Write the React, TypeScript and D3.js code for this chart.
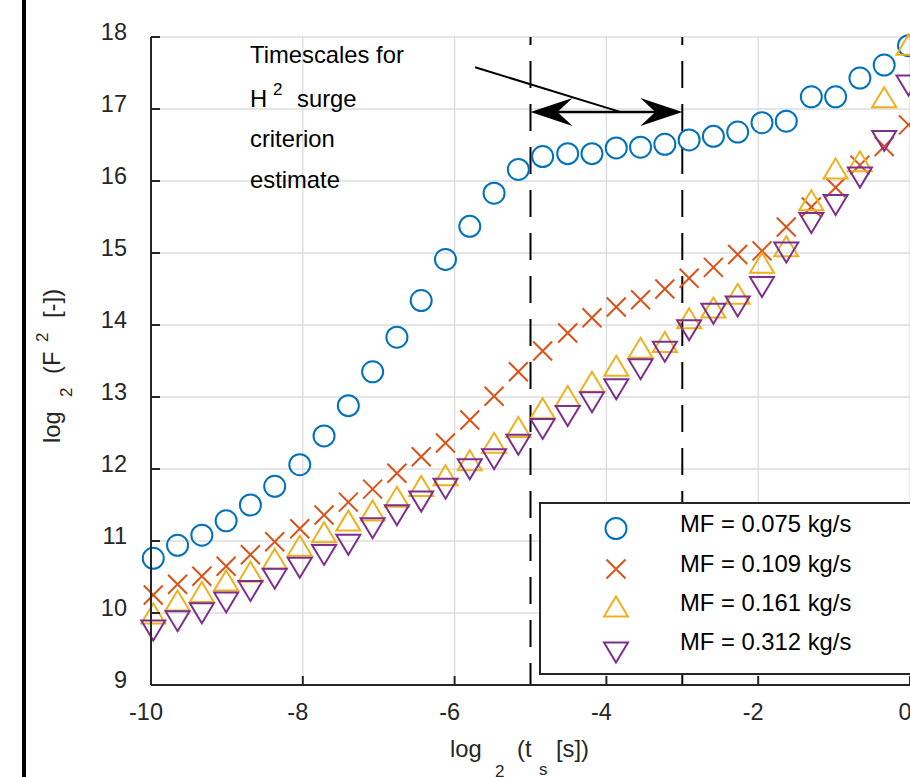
import React from 'react';
import * as d3 from 'd3';

// log2(ts) sample positions
const xValues = [
  -9.97, -9.65, -9.33, -9.01, -8.69, -8.37, -8.04, -7.72, -7.40, -7.08,
  -6.76, -6.44, -6.12, -5.80, -5.48, -5.16, -4.84, -4.51, -4.19, -3.87,
  -3.55, -3.23, -2.91, -2.59, -2.27, -1.95, -1.63, -1.30, -0.98, -0.66,
  -0.34, -0.02,
];

const mf075 = [
  10.76, 10.94, 11.08, 11.28, 11.5, 11.76, 12.06, 12.46, 12.88, 13.35,
  13.83, 14.34, 14.91, 15.37, 15.83, 16.16, 16.34, 16.38, 16.38, 16.46,
  16.47, 16.51, 16.57, 16.62, 16.68, 16.81, 16.83, 17.17, 17.17, 17.43,
  17.61, 17.88,
];

const mf109 = [
  10.25, 10.4, 10.51, 10.65, 10.81, 10.99, 11.17, 11.36, 11.54, 11.72,
  11.94, 12.17, 12.36, 12.68, 13.01, 13.35, 13.64, 13.89, 14.1, 14.25,
  14.35, 14.5, 14.65, 14.8, 14.98, 15.03, 15.36, 15.64, 15.91, 16.22,
  16.48, 16.78,
];

const mf161 = [
  10.0, 10.18, 10.3, 10.46, 10.58, 10.76, 10.94, 11.13, 11.29, 11.43,
  11.62, 11.77, 11.92, 12.13, 12.37, 12.59, 12.85, 13.02, 13.22, 13.44,
  13.69, 13.77, 14.1, 14.25, 14.44, 14.87, 15.1, 15.74, 16.18, 16.28,
  17.17, 17.9,
];

const mf312 = [
  9.75, 9.88, 9.99, 10.14, 10.3, 10.47, 10.62, 10.8, 10.94, 11.17,
  11.35, 11.54, 11.72, 11.99, 12.13, 12.33, 12.55, 12.73, 12.92, 13.1,
  13.38, 13.62, 13.92, 14.15, 14.25, 14.52, 15.0, 15.41, 15.66, 16.04,
  16.55, 17.32,
];

const seriesValues = [mf075, mf109, mf161, mf312];
const legendLabels = ['MF = 0.075 kg/s', 'MF = 0.109 kg/s', 'MF = 0.161 kg/s', 'MF = 0.312 kg/s'];
const markerTypes = ['circle', 'x', 'triangle-up', 'triangle-down'];
const colors = ['#0072BD', '#D95319', '#EDB120', '#7E2F8E'];

const xTicks = [-10, -8, -6, -4, -2, 0];
const yTicks = [9, 10, 11, 12, 13, 14, 15, 16, 17, 18];
const timescaleBounds = [-5, -3];
const arrowLevel = 16.96;
const pointerStart = [-5.73, 17.58];
const pointerEnd = [-3.82, 16.96];

const FONT = '"Liberation Sans", Arial, Helvetica, sans-serif';
const TXT = '#262626';
const FS = 23.8;
const TICK_FS = 23.5;

function Marker({ type, x, y, color }: { type: string; x: number; y: number; color: string }) {
  const common = { fill: 'none', stroke: color, strokeWidth: 2 };
  if (type === 'circle') return <circle cx={x} cy={y} r={10.5} {...common} />;
  if (type === 'x')
    return (
      <path
        d={`M${x - 9.5},${y - 9.5}L${x + 9.5},${y + 9.5}M${x - 9.5},${y + 9.5}L${x + 9.5},${y - 9.5}`}
        {...common}
      />
    );
  if (type === 'triangle-up')
    return <path d={`M${x},${y - 9.5}L${x + 12},${y + 10.5}L${x - 12},${y + 10.5}Z`} {...common} />;
  return <path d={`M${x},${y + 9.5}L${x + 12},${y - 10.5}L${x - 12},${y - 10.5}Z`} {...common} />;
}

export default function App() {
  const W = 910;
  const H = 777;
  const x = d3.scaleLinear().domain([-10, 0]).range([151, 910]);
  const y = d3.scaleLinear().domain([9, 18]).range([685, 37]);
  const top = y(18);
  const bottom = y(9);
  const left = x(-10);

  const ay = y(arrowLevel);
  const head = (tip: number, dir: number) =>
    `M${tip},${ay}L${tip - dir * 42},${ay - 14}L${tip - dir * 27},${ay}L${tip - dir * 42},${ay + 14}Z`;

  const legendRowsText = [532, 572, 611, 650];
  const legendRowsMarker = [528.5, 569, 606, 653];

  return (
    <svg
      width={W}
      height={H}
      style={{ position: 'absolute', left: 0, top: 0, background: '#fff' }}
      fontFamily={FONT}
    >
      <rect x={0} y={0} width={W} height={H} fill="#fff" />
      {/* figure border line */}
      <line x1={24} x2={24} y1={0} y2={H} stroke="#000" strokeWidth={4} />

      {/* grid */}
      {yTicks.map((t) => (
        <line key={'gy' + t} x1={left} x2={W} y1={y(t)} y2={y(t)} stroke="#dcdcdc" strokeWidth={1.3} />
      ))}
      {xTicks.map((t) => (
        <line key={'gx' + t} x1={x(t)} x2={x(t)} y1={top} y2={bottom} stroke="#dcdcdc" strokeWidth={1.3} />
      ))}

      {/* dashed timescale bounds */}
      {timescaleBounds.map((b) => (
        <line
          key={'b' + b}
          x1={x(b)}
          x2={x(b)}
          y1={top}
          y2={bottom}
          stroke="#000"
          strokeWidth={2}
          strokeDasharray="27,16"
          strokeDashoffset={19}
        />
      ))}

      {/* data */}
      {seriesValues.map((vals, si) => (
        <g key={'s' + si}>
          {vals.map((v, i) => (
            <Marker key={i} type={markerTypes[si]} x={x(xValues[i])} y={y(v)} color={colors[si]} />
          ))}
        </g>
      ))}

      {/* axes */}
      <line x1={left} x2={left} y1={top} y2={bottom} stroke={TXT} strokeWidth={2} />
      <line x1={left} x2={W} y1={bottom} y2={bottom} stroke={TXT} strokeWidth={2} />
      {yTicks.map((t) => (
        <g key={'ty' + t}>
          <line x1={left} x2={left + 9} y1={y(t)} y2={y(t)} stroke={TXT} strokeWidth={2} />
          <text x={127} y={y(t) + 2.5} textAnchor="end" fontSize={TICK_FS} fill={TXT}>
            {t}
          </text>
        </g>
      ))}
      {xTicks.map((t) => (
        <g key={'tx' + t}>
          <line x1={x(t)} x2={x(t)} y1={bottom} y2={bottom - 9} stroke={TXT} strokeWidth={2} />
          <text x={x(t) - 5} y={720} textAnchor="middle" fontSize={TICK_FS} fill={TXT}>
            {t}
          </text>
        </g>
      ))}

      {/* legend */}
      <rect x={540} y={503} width={W} height={171} fill="#fff" stroke={TXT} strokeWidth={2} />
      {legendLabels.map((lab, i) => (
        <g key={'l' + i}>
          <Marker type={markerTypes[i]} x={616} y={legendRowsMarker[i]} color={colors[i]} />
          <text x={680} y={legendRowsText[i]} fontSize={FS} fill="#000">
            {lab}
          </text>
        </g>
      ))}

      {/* annotation */}
      <g fill="#000" fontSize={FS}>
        <text x={250} y={63}>Timescales for</text>
        <text x={250} y={107}>H</text>
        <text x={273} y={95} fontSize={17}>2</text>
        <text x={297} y={107}>surge</text>
        <text x={250} y={147}>criterion</text>
        <text x={250} y={188}>estimate</text>
      </g>
      <line
        x1={x(pointerStart[0])}
        y1={y(pointerStart[1])}
        x2={x(pointerEnd[0])}
        y2={y(pointerEnd[1])}
        stroke="#000"
        strokeWidth={2}
      />
      <line x1={x(timescaleBounds[0]) + 20} x2={x(timescaleBounds[1]) - 20} y1={ay} y2={ay} stroke="#000" strokeWidth={2.5} />
      <path d={head(x(timescaleBounds[0]), -1)} fill="#000" />
      <path d={head(x(timescaleBounds[1]), 1)} fill="#000" />

      {/* axis labels */}
      <g transform={`translate(60,443) rotate(-90)`} fill={TXT} fontSize={FS}>
        <text x={0} y={0}>log</text>
        <text x={46} y={12} fontSize={17}>2</text>
        <text x={69} y={0}>(F</text>
        <text x={101} y={-12} fontSize={17}>2</text>
        <text x={125} y={0}>[-])</text>
      </g>
      <g fill={TXT} fontSize={FS}>
        <text x={450} y={757}>log</text>
        <text x={495} y={777} fontSize={17}>2</text>
        <text x={517} y={757}>(t</text>
        <text x={539} y={775} fontSize={17}>s</text>
        <text x={556} y={757}>[s])</text>
      </g>
    </svg>
  );
}
